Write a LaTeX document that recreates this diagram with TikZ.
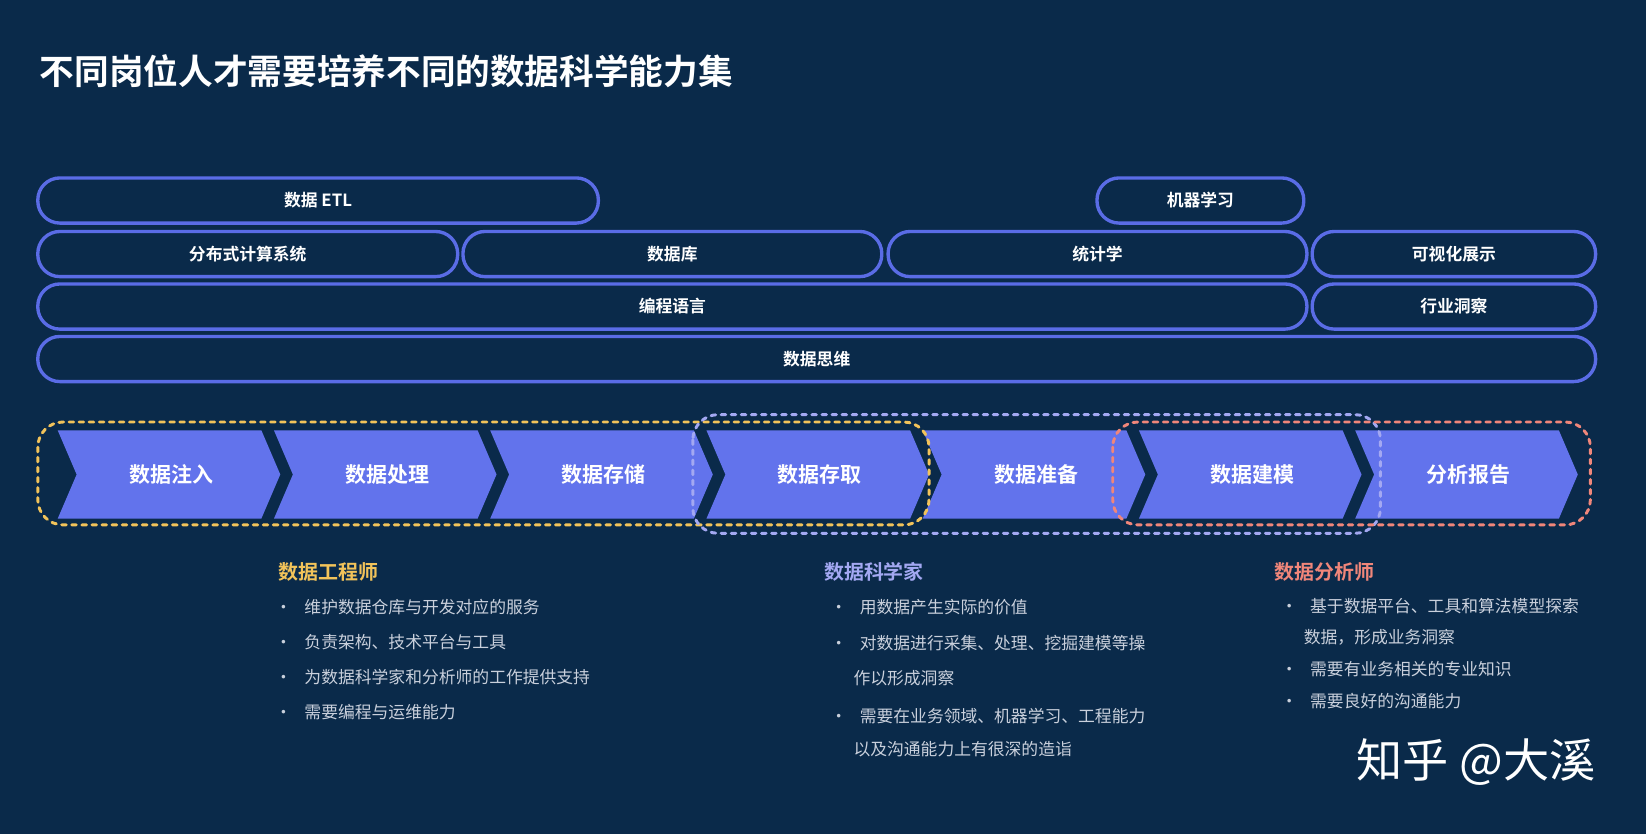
\documentclass[tikz,border=0pt]{standalone}
\usepackage{fontspec}
\setmainfont{Noto Sans CJK SC}[BoldFont={Noto Sans CJK SC Bold}]
\usetikzlibrary{positioning, calc}

\definecolor{bg}{HTML}{0A2A4A}
\definecolor{pillblue}{HTML}{5A6CE6}
\definecolor{chevblue}{HTML}{6273EC}
\definecolor{engyellow}{HTML}{F2C35A}
\definecolor{scipurple}{HTML}{A3A8F2}
\definecolor{anasalmon}{HTML}{F0867A}
\definecolor{bodygray}{HTML}{C9D0DC}

\tikzset{
	pill/.style={draw=pillblue, line width=1.6pt, fill=bg, rounded corners=10.5pt,
		minimum height=21.5pt, inner sep=0pt, text=white, font=\bfseries\fontsize{8}{10}\selectfont},
	chev/.style={fill=chevblue},
	chevtext/.style={text=white, font=\bfseries\fontsize{10}{12}\selectfont},
	group/.style={line width=1.4pt, dash pattern=on 2.2pt off 2.6pt, line cap=round, rounded corners=12pt},
	role/.style={anchor=west, font=\bfseries\fontsize{9.5}{11}\selectfont},
	item/.style={anchor=west, text=bodygray, font=\fontsize{8}{10}\selectfont},
}

% pill: name, left x, right x, centre y, text
\newcommand{\pill}[5]{\node[pill, minimum width={(#3-#2)*0.5pt}] (#1) at ({(#2+#3)/2},#4) {#5};}
% chevron: name, left x, text
\newcommand{\chevron}[3]{
	\fill[chev] (#2,410) -- ++(194,0) -- ++(18,42) -- ++(-18,42) -- ++(-194,0) -- ++(18,-42) -- cycle;
	\node[chevtext] (#1) at (#2+108,452) {#3};
}

\begin{document}
\begin{tikzpicture}[x=0.5pt, y=-0.5pt]
	\fill[bg] (0,0) rectangle (1568,794);
	\useasboundingbox (0,0) rectangle (1568,794);

	\node[anchor=west, text=white, font=\bfseries\fontsize{16.5}{20}\selectfont] (title) at (31,68) {不同岗位人才需要培养不同的数据科学能力集};

	% skill pills
	\pill{etl}{36}{570}{191}{数据 ETL}
	\pill{ml}{1045}{1242}{191}{机器学习}
	\pill{dist}{36}{436}{242}{分布式计算系统}
	\pill{db}{441}{840}{242}{数据库}
	\pill{stat}{846}{1245}{242}{统计学}
	\pill{vis}{1250}{1520}{242}{可视化展示}
	\pill{prog}{36}{1245}{292}{编程语言}
	\pill{insight}{1250}{1520}{292}{行业洞察}
	\pill{think}{36}{1520}{342}{数据思维}

	% pipeline
	\chevron{ingest}{55}{数据注入}
	\chevron{process}{261}{数据处理}
	\chevron{store}{467}{数据存储}
	\chevron{access}{673}{数据存取}
	\chevron{prepare}{879}{数据准备}
	\chevron{model}{1085}{数据建模}
	\chevron{report}{1291}{分析报告}

	% role groups
	\draw[group, engyellow] (36,402) rectangle (885,500);
	\draw[group, scipurple] (660,395) rectangle (1315,508);
	\draw[group, anasalmon] (1060,402) rectangle (1515,500);

	% data engineer
	\node[role, text=engyellow] (eng) at (258,545) {数据工程师};
	\foreach \t [count=\i] in {维护数据仓库与开发对应的服务, 负责架构、技术平台与工具, 为数据科学家和分析师的工作提供支持, 需要编程与运维能力} {
		\node[item] at (255,545+33.3*\i) {•\hspace{6pt}\t};
	}

	% data scientist
	\node[role, text=scipurple] (sci) at (778,545) {数据科学家};
	\node[item] at (784,578) {•\hspace{6pt}用数据产生实际的价值};
	\node[item] at (784,613) {•\hspace{6pt}对数据进行采集、处理、挖掘建模等操};
	\node[item] at (806,646) {作以形成洞察};
	\node[item] at (784,682) {•\hspace{6pt}需要在业务领域、机器学习、工程能力};
	\node[item] at (806,714) {以及沟通能力上有很深的造诣};

	% data analyst
	\node[role, text=anasalmon] (ana) at (1207,545) {数据分析师};
	\node[item] at (1213,577) {•\hspace{6pt}基于数据平台、工具和算法模型探索};
	\node[item] at (1235,607) {数据，形成业务洞察};
	\node[item] at (1213,637) {•\hspace{6pt}需要有业务相关的专业知识};
	\node[item] at (1213,668) {•\hspace{6pt}需要良好的沟通能力};

	\node[anchor=east, text=white, font=\fontsize{22}{26}\selectfont] (mark) at (1527,726) {知乎 @大溪};
\end{tikzpicture}
\end{document}
